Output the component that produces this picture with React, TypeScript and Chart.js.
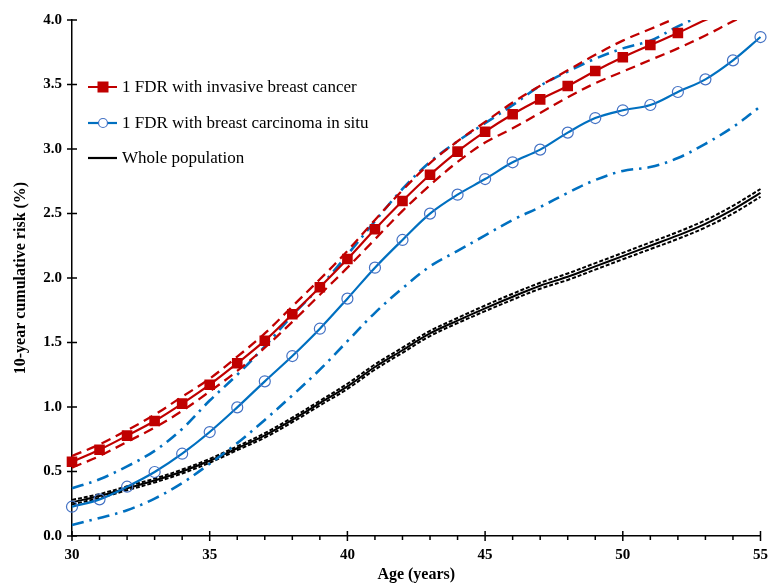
import React, { useEffect, useRef } from "react";
import { Chart, registerables } from "chart.js";

Chart.register(...registerables);

const ages = [30, 31, 32, 33, 34, 35, 36, 37, 38, 39, 40, 41, 42, 43, 44, 45, 46, 47, 48, 49, 50, 51, 52, 53, 54, 55];

const invasive = [0.576, 0.669, 0.778, 0.891, 1.026, 1.173, 1.339, 1.514, 1.719, 1.928, 2.147, 2.378, 2.597, 2.8, 2.98, 3.134, 3.269, 3.385, 3.488, 3.605, 3.711, 3.806, 3.899, 4.0, 4.08, 4.16];
const invasiveUpper = [0.62, 0.71, 0.82, 0.94, 1.08, 1.22, 1.39, 1.57, 1.78, 1.99, 2.21, 2.45, 2.68, 2.89, 3.06, 3.21, 3.36, 3.49, 3.61, 3.73, 3.84, 3.93, 4.02, 4.1, 4.18, 4.25];
const invasiveLower = [0.53, 0.62, 0.73, 0.84, 0.97, 1.12, 1.28, 1.46, 1.66, 1.87, 2.08, 2.3, 2.52, 2.72, 2.9, 3.05, 3.16, 3.28, 3.4, 3.51, 3.6, 3.69, 3.78, 3.88, 3.99, 4.1];

const inSitu = [0.227, 0.284, 0.382, 0.496, 0.638, 0.806, 0.997, 1.199, 1.395, 1.607, 1.84, 2.08, 2.295, 2.499, 2.646, 2.767, 2.897, 2.995, 3.127, 3.24, 3.3, 3.341, 3.442, 3.54, 3.687, 3.868];
const inSituUpper = [0.37, 0.44, 0.54, 0.66, 0.83, 1.05, 1.25, 1.47, 1.71, 1.93, 2.18, 2.44, 2.69, 2.9, 3.06, 3.2, 3.34, 3.49, 3.6, 3.7, 3.78, 3.84, 3.95, 4.05, 4.15, 4.25];
const inSituLower = [0.085, 0.14, 0.2, 0.29, 0.41, 0.56, 0.72, 0.9, 1.09, 1.29, 1.51, 1.73, 1.92, 2.09, 2.21, 2.33, 2.45, 2.55, 2.66, 2.76, 2.83, 2.86, 2.93, 3.04, 3.17, 3.33];

const whole = [0.262, 0.31, 0.37, 0.43, 0.5, 0.583, 0.68, 0.78, 0.9, 1.03, 1.16, 1.31, 1.44, 1.57, 1.67, 1.765, 1.855, 1.94, 2.01, 2.09, 2.17, 2.25, 2.33, 2.42, 2.53, 2.66];
const wholeUpper = [0.28, 0.325, 0.385, 0.445, 0.515, 0.598, 0.695, 0.797, 0.918, 1.048, 1.18, 1.33, 1.46, 1.59, 1.69, 1.787, 1.878, 1.963, 2.035, 2.115, 2.195, 2.276, 2.357, 2.448, 2.56, 2.69];
const wholeLower = [0.245, 0.295, 0.355, 0.415, 0.485, 0.568, 0.665, 0.763, 0.882, 1.012, 1.14, 1.29, 1.42, 1.55, 1.65, 1.743, 1.832, 1.917, 1.985, 2.065, 2.145, 2.224, 2.303, 2.392, 2.5, 2.63];

const yTicks = [0, 0.5, 1, 1.5, 2, 2.5, 3, 3.5, 4];
const legendLabels = [
  "1 FDR with invasive breast cancer",
  "1 FDR with breast carcinoma in situ",
  "Whole population",
];

const RED = "#C00000";
const BLUE = "#0070C0";
const BLUE_MARK = "#4472C4";
const FONT = '"Liberation Serif", "Times New Roman", serif';
const TENSION = 0.35;

const pts = (vals: number[]) => ages.map((a, i) => ({ x: a, y: vals[i] }));
const clip = { left: 10, top: 0, right: 10, bottom: 10 };

const axisDecor = {
  id: "axisDecor",
  afterDraw(chart: any) {
    const { ctx, scales, chartArea } = chart;
    const x = scales.x;
    const y = scales.y;
    ctx.save();
    ctx.strokeStyle = "#000";
    ctx.lineWidth = 1.5;
    ctx.beginPath();
    yTicks.forEach((v) => {
      const py = y.getPixelForValue(v);
      ctx.moveTo(chartArea.left - 5, py);
      ctx.lineTo(chartArea.left + 5, py);
    });
    ages.forEach((a) => {
      const px = x.getPixelForValue(a);
      if (a % 5 === 0) {
        ctx.moveTo(px, chartArea.bottom - 5);
        ctx.lineTo(px, chartArea.bottom + 5);
      } else {
        ctx.moveTo(px, chartArea.bottom);
        ctx.lineTo(px, chartArea.bottom + 4);
      }
    });
    ctx.stroke();

    // legend
    const lx0 = 88;
    const lx1 = 117;
    const tx = 122;
    const rows = [87, 123, 158];
    ctx.font = `17px ${FONT}`;
    ctx.textBaseline = "middle";
    ctx.lineWidth = 2;
    ctx.strokeStyle = RED;
    ctx.beginPath();
    ctx.moveTo(lx0, rows[0]);
    ctx.lineTo(lx1, rows[0]);
    ctx.stroke();
    ctx.fillStyle = RED;
    ctx.fillRect(103 - 5.5, rows[0] - 5.5, 11, 11);
    ctx.strokeStyle = BLUE;
    ctx.lineWidth = 2.2;
    ctx.beginPath();
    ctx.moveTo(lx0, rows[1]);
    ctx.lineTo(lx1, rows[1]);
    ctx.stroke();
    ctx.fillStyle = "#fff";
    ctx.strokeStyle = BLUE_MARK;
    ctx.lineWidth = 1.2;
    ctx.beginPath();
    ctx.arc(103, rows[1], 4.5, 0, Math.PI * 2);
    ctx.fill();
    ctx.stroke();
    ctx.strokeStyle = "#000";
    ctx.lineWidth = 2.2;
    ctx.beginPath();
    ctx.moveTo(lx0, rows[2]);
    ctx.lineTo(lx1, rows[2]);
    ctx.stroke();
    ctx.fillStyle = "#000";
    legendLabels.forEach((t, i) => ctx.fillText(t, tx, rows[i] + 1));
    ctx.restore();
  },
};

export default function App() {
  const ref = useRef<HTMLCanvasElement | null>(null);
  useEffect(() => {
    document.body.style.margin = "0";
    if (!ref.current) return;
    Chart.defaults.font.family = FONT;
    const line = (label: string, vals: number[], color: string, width: number, dash: number[]) => ({
      label,
      data: pts(vals),
      borderColor: color,
      borderWidth: width,
      borderDash: dash,
      pointRadius: 0,
      tension: TENSION,
      clip,
    });
    const chart = new Chart(ref.current, {
      type: "line",
      data: {
        datasets: [
          {
            label: legendLabels[0],
            data: pts(invasive),
            borderColor: RED,
            backgroundColor: RED,
            borderWidth: 2.2,
            pointStyle: "rect",
            pointRadius: ages.map((a) => (a <= 52 ? 7.5 : 0)),
            pointBorderWidth: 0,
            tension: TENSION,
            clip,
          },
          line("inv upper", invasiveUpper, RED, 2.3, [10, 6]),
          line("inv lower", invasiveLower, RED, 2.3, [10, 6]),
          {
            label: legendLabels[1],
            data: pts(inSitu),
            borderColor: BLUE,
            backgroundColor: "rgba(255,255,255,0)",
            borderWidth: 2.2,
            pointStyle: "circle",
            pointRadius: 5.5,
            pointBorderColor: BLUE_MARK,
            pointBorderWidth: 1.2,
            tension: TENSION,
            clip,
          },
          line("situ upper", inSituUpper, BLUE, 2.6, [12, 6, 2.5, 6]),
          line("situ lower", inSituLower, BLUE, 2.6, [12, 6, 2.5, 6]),
          line(legendLabels[2], whole, "#000", 2, []),
          line("whole upper", wholeUpper, "#000", 2, [4, 2]),
          line("whole lower", wholeLower, "#000", 2, [4, 2]),
        ],
      },
      options: {
        animation: false,
        responsive: true,
        maintainAspectRatio: false,
        layout: { padding: { top: 20, right: 7, left: 0, bottom: 0 } },
        plugins: { legend: { display: false }, tooltip: { enabled: false } },
        scales: {
          x: {
            type: "linear",
            min: 30,
            max: 55,
            afterFit: (s: any) => {
              s.height = 48;
              s.paddingRight = 0;
              s.paddingLeft = 0;
            },
            grid: { display: false, drawTicks: false },
            border: { display: true, color: "#000", width: 1.5 },
            ticks: {
              stepSize: 5,
              color: "#000",
              padding: 10,
              font: { size: 15, weight: "bold", family: FONT },
              maxRotation: 0,
            },
            title: {
              display: true,
              text: "Age (years)",
              color: "#000",
              font: { size: 16, weight: "bold", family: FONT },
              padding: { top: 0, bottom: 0 },
            },
          },
          y: {
            min: 0,
            max: 4,
            afterFit: (s: any) => {
              s.width = 72;
              s.paddingTop = 0;
              s.paddingBottom = 0;
            },
            grid: { display: false, drawTicks: false },
            border: { display: true, color: "#000", width: 1.5 },
            ticks: {
              stepSize: 0.5,
              color: "#000",
              padding: 10,
              font: { size: 15, weight: "bold", family: FONT },
              callback: (v: any) => Number(v).toFixed(1),
            },
            title: {
              display: true,
              text: "10-year cumulative risk (%)",
              color: "#000",
              font: { size: 16, weight: "bold", family: FONT },
              padding: { top: 11, bottom: 0 },
            },
          },
        },
      },
      plugins: [axisDecor],
    } as any);
    return () => chart.destroy();
  }, []);
  return (
    <div style={{ position: "relative", width: 768, height: 584 }}>
      <canvas ref={ref} />
    </div>
  );
}
